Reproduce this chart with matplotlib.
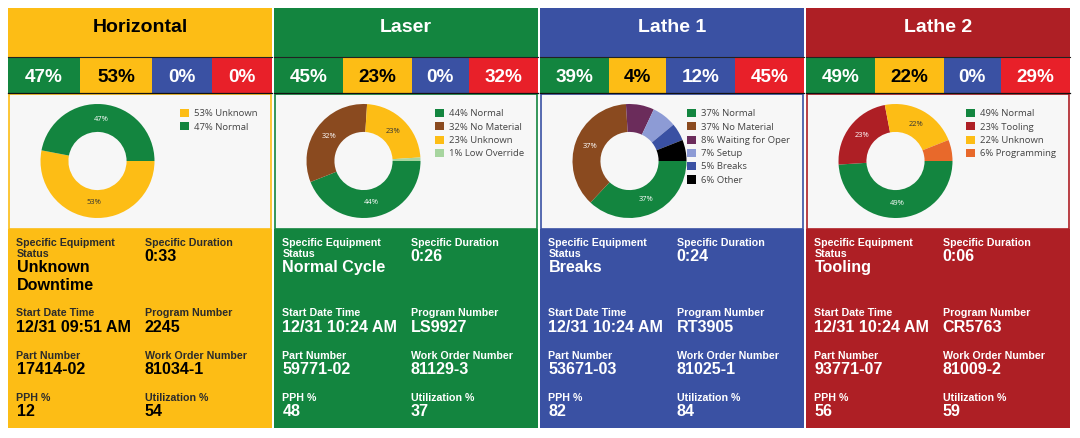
import textwrap
import matplotlib
matplotlib.use("Agg")
import matplotlib.pyplot as plt
from matplotlib.patches import Rectangle, Patch

W, H = 1080, 438

# ---- data ----
machines = ["Horizontal", "Laser", "Lathe 1", "Lathe 2"]

# state strip: green / yellow / blue / red share
pct_green = [47, 45, 39, 49]
pct_yellow = [53, 23, 4, 22]
pct_blue = [0, 0, 12, 0]
pct_red = [0, 32, 45, 29]

# donut breakdowns (legend order)
horiz_labels = ["Unknown", "Normal"]
horiz_values = [53, 47]
laser_labels = ["Normal", "No Material", "Unknown", "Low Override"]
laser_values = [44, 32, 23, 1]
lathe1_labels = ["Normal", "No Material", "Waiting for Oper", "Setup", "Breaks", "Other"]
lathe1_values = [37, 37, 8, 7, 5, 6]
lathe2_labels = ["Normal", "Tooling", "Unknown", "Programming"]
lathe2_values = [49, 23, 22, 6]

# info block
status = ["Unknown Downtime", "Normal Cycle", "Breaks", "Tooling"]
duration = ["0:33", "0:26", "0:24", "0:06"]
start_time = ["12/31 09:51 AM", "12/31 10:24 AM", "12/31 10:24 AM", "12/31 10:24 AM"]
program_no = ["2245", "LS9927", "RT3905", "CR5763"]
part_no = ["17414-02", "59771-02", "53671-03", "93771-07"]
work_order = ["81034-1", "81129-3", "81025-1", "81009-2"]
pph = [12, 48, 82, 56]
utilization = [54, 37, 84, 59]

# ---- colours ----
GREEN = "#13853F"
YELLOW = "#FDBD15"
BLUE = "#3A51A3"
RED = "#E82029"
DARKRED = "#AE1F25"

panel_colors = [YELLOW, GREEN, BLUE, DARKRED]
strip_colors = [GREEN, YELLOW, BLUE, RED]
state_colors = {
    "Normal": GREEN,
    "Unknown": YELLOW,
    "No Material": "#8A4A1F",
    "Low Override": "#A7D59F",
    "Waiting for Oper": "#6B2C5B",
    "Setup": "#8D9BD5",
    "Breaks": BLUE,
    "Other": "#000000",
    "Tooling": DARKRED,
    "Programming": "#E8692B",
}

donuts = [
    (horiz_labels, horiz_values),
    (laser_labels, laser_values),
    (lathe1_labels, lathe1_values),
    (lathe2_labels, lathe2_values),
]

ARIAL = "Liberation Sans"
LEGEND_FONT = "Open Sans"

fig = plt.figure(figsize=(W / 100, H / 100), dpi=100, facecolor="white")
ax = fig.add_axes([0, 0, 1, 1])
ax.set_xlim(0, W)
ax.set_ylim(H, 0)
ax.axis("off")

panel_left = [8, 274, 540, 806]
panel_w = 264
TOP, STRIP_TOP, STRIP_BOT, INFO_TOP, BOTTOM = 8, 57, 93, 229, 428

for i, name in enumerate(machines):
    x0 = panel_left[i]
    pc = panel_colors[i]
    txt = "black" if pc == YELLOW else "white"
    lbl = "#2b2b2b" if pc == YELLOW else "white"

    # header
    ax.add_patch(Rectangle((x0, TOP), panel_w, STRIP_TOP - TOP, color=pc, lw=0))
    ax.text(x0 + panel_w / 2, 32, name, ha="center", va="baseline",
            fontsize=14, fontweight="bold", family=ARIAL, color=txt)

    # state strip, cells wider for two digit numbers
    vals = [pct_green[i], pct_yellow[i], pct_blue[i], pct_red[i]]
    texts = [f"{v}%" for v in vals]
    weights = [1.2 if len(t) > 2 else 1.0 for t in texts]
    unit = panel_w / sum(weights)
    cx = x0
    for t, wgt, c in zip(texts, weights, strip_colors):
        cw = wgt * unit
        ax.add_patch(Rectangle((cx, STRIP_TOP), cw, STRIP_BOT - STRIP_TOP, color=c, lw=0))
        ax.text(cx + cw / 2, 81.5, t, ha="center", va="baseline", fontsize=13.6,
                fontweight="bold", family=ARIAL,
                color="black" if c == YELLOW else "white")
        cx += cw
    ax.plot([x0, x0 + panel_w], [STRIP_TOP, STRIP_TOP], color="#222222", lw=0.8)
    ax.plot([x0, x0 + panel_w], [STRIP_BOT, STRIP_BOT], color="#111111", lw=0.9)

    # chart area
    ax.add_patch(Rectangle((x0 + 0.75, STRIP_BOT + 0.5), panel_w - 1.5, INFO_TOP - STRIP_BOT - 0.5,
                           facecolor="#F7F7F7", edgecolor=pc, lw=1.2))

    # info block
    ax.add_patch(Rectangle((x0, INFO_TOP), panel_w, BOTTOM - INFO_TOP, color=pc, lw=0))
    fields = [
        [("Specific Equipment Status", status[i]), ("Specific Duration", duration[i])],
        [("Start Date Time", start_time[i]), ("Program Number", program_no[i])],
        [("Part Number", part_no[i]), ("Work Order Number", work_order[i])],
        [("PPH %", str(pph[i])), ("Utilization %", str(utilization[i]))],
    ]
    row_y = [245.5, 316, 358.8, 401]
    col_x = [x0 + 8.5, x0 + 136.7]
    for r, row in enumerate(fields):
        for c, (label, value) in enumerate(row):
            y = row_y[r]
            for line in textwrap.wrap(label, 18):
                ax.text(col_x[c], y, line, ha="left", va="baseline", fontsize=7.7,
                        fontweight="bold", family=ARIAL, color=lbl)
                y += 11.3
            y += 4.2
            for line in textwrap.wrap(value, 14):
                ax.text(col_x[c], y, line, ha="left", va="baseline", fontsize=11.6,
                        fontweight="bold", family=ARIAL, color=txt)
                y += 17.4

    # donut
    labels, values = donuts[i]
    cxd, cyd, rd = x0 + 89.5, 161, 57
    dax = fig.add_axes([(cxd - rd) / W, 1 - (cyd + rd) / H, 2 * rd / W, 2 * rd / H])
    colors = [state_colors[l] for l in labels]
    wedges, _, autotexts = dax.pie(
        values, colors=colors, startangle=0, counterclock=False, radius=1,
        wedgeprops=dict(width=0.49, linewidth=0),
        autopct=lambda p: f"{p:.0f}%" if p >= 10 else "",
        pctdistance=0.74, textprops=dict(fontsize=5.4, family=LEGEND_FONT))
    for at, col in zip(autotexts, colors):
        at.set_color("#333333" if col == YELLOW else "white")
    dax.set_xlim(-1, 1)
    dax.set_ylim(-1, 1)
    dax.set_aspect("equal")
    dax.axis("off")

    handles = [Patch(facecolor=col, edgecolor="none", label=f"{v}% {l}")
               for l, v, col in zip(labels, values, colors)]
    dax.legend(handles=handles, loc="upper right", bbox_to_anchor=(x0 + panel_w - 14, 109),
               bbox_transform=ax.transData, frameon=False, borderpad=0, borderaxespad=0,
               handlelength=0.95, handleheight=0.95, handletextpad=0.55, labelspacing=0.42,
               prop=dict(family=LEGEND_FONT, size=6.8), labelcolor="#444444")

fig.savefig("out.png", dpi=100, facecolor="white")
